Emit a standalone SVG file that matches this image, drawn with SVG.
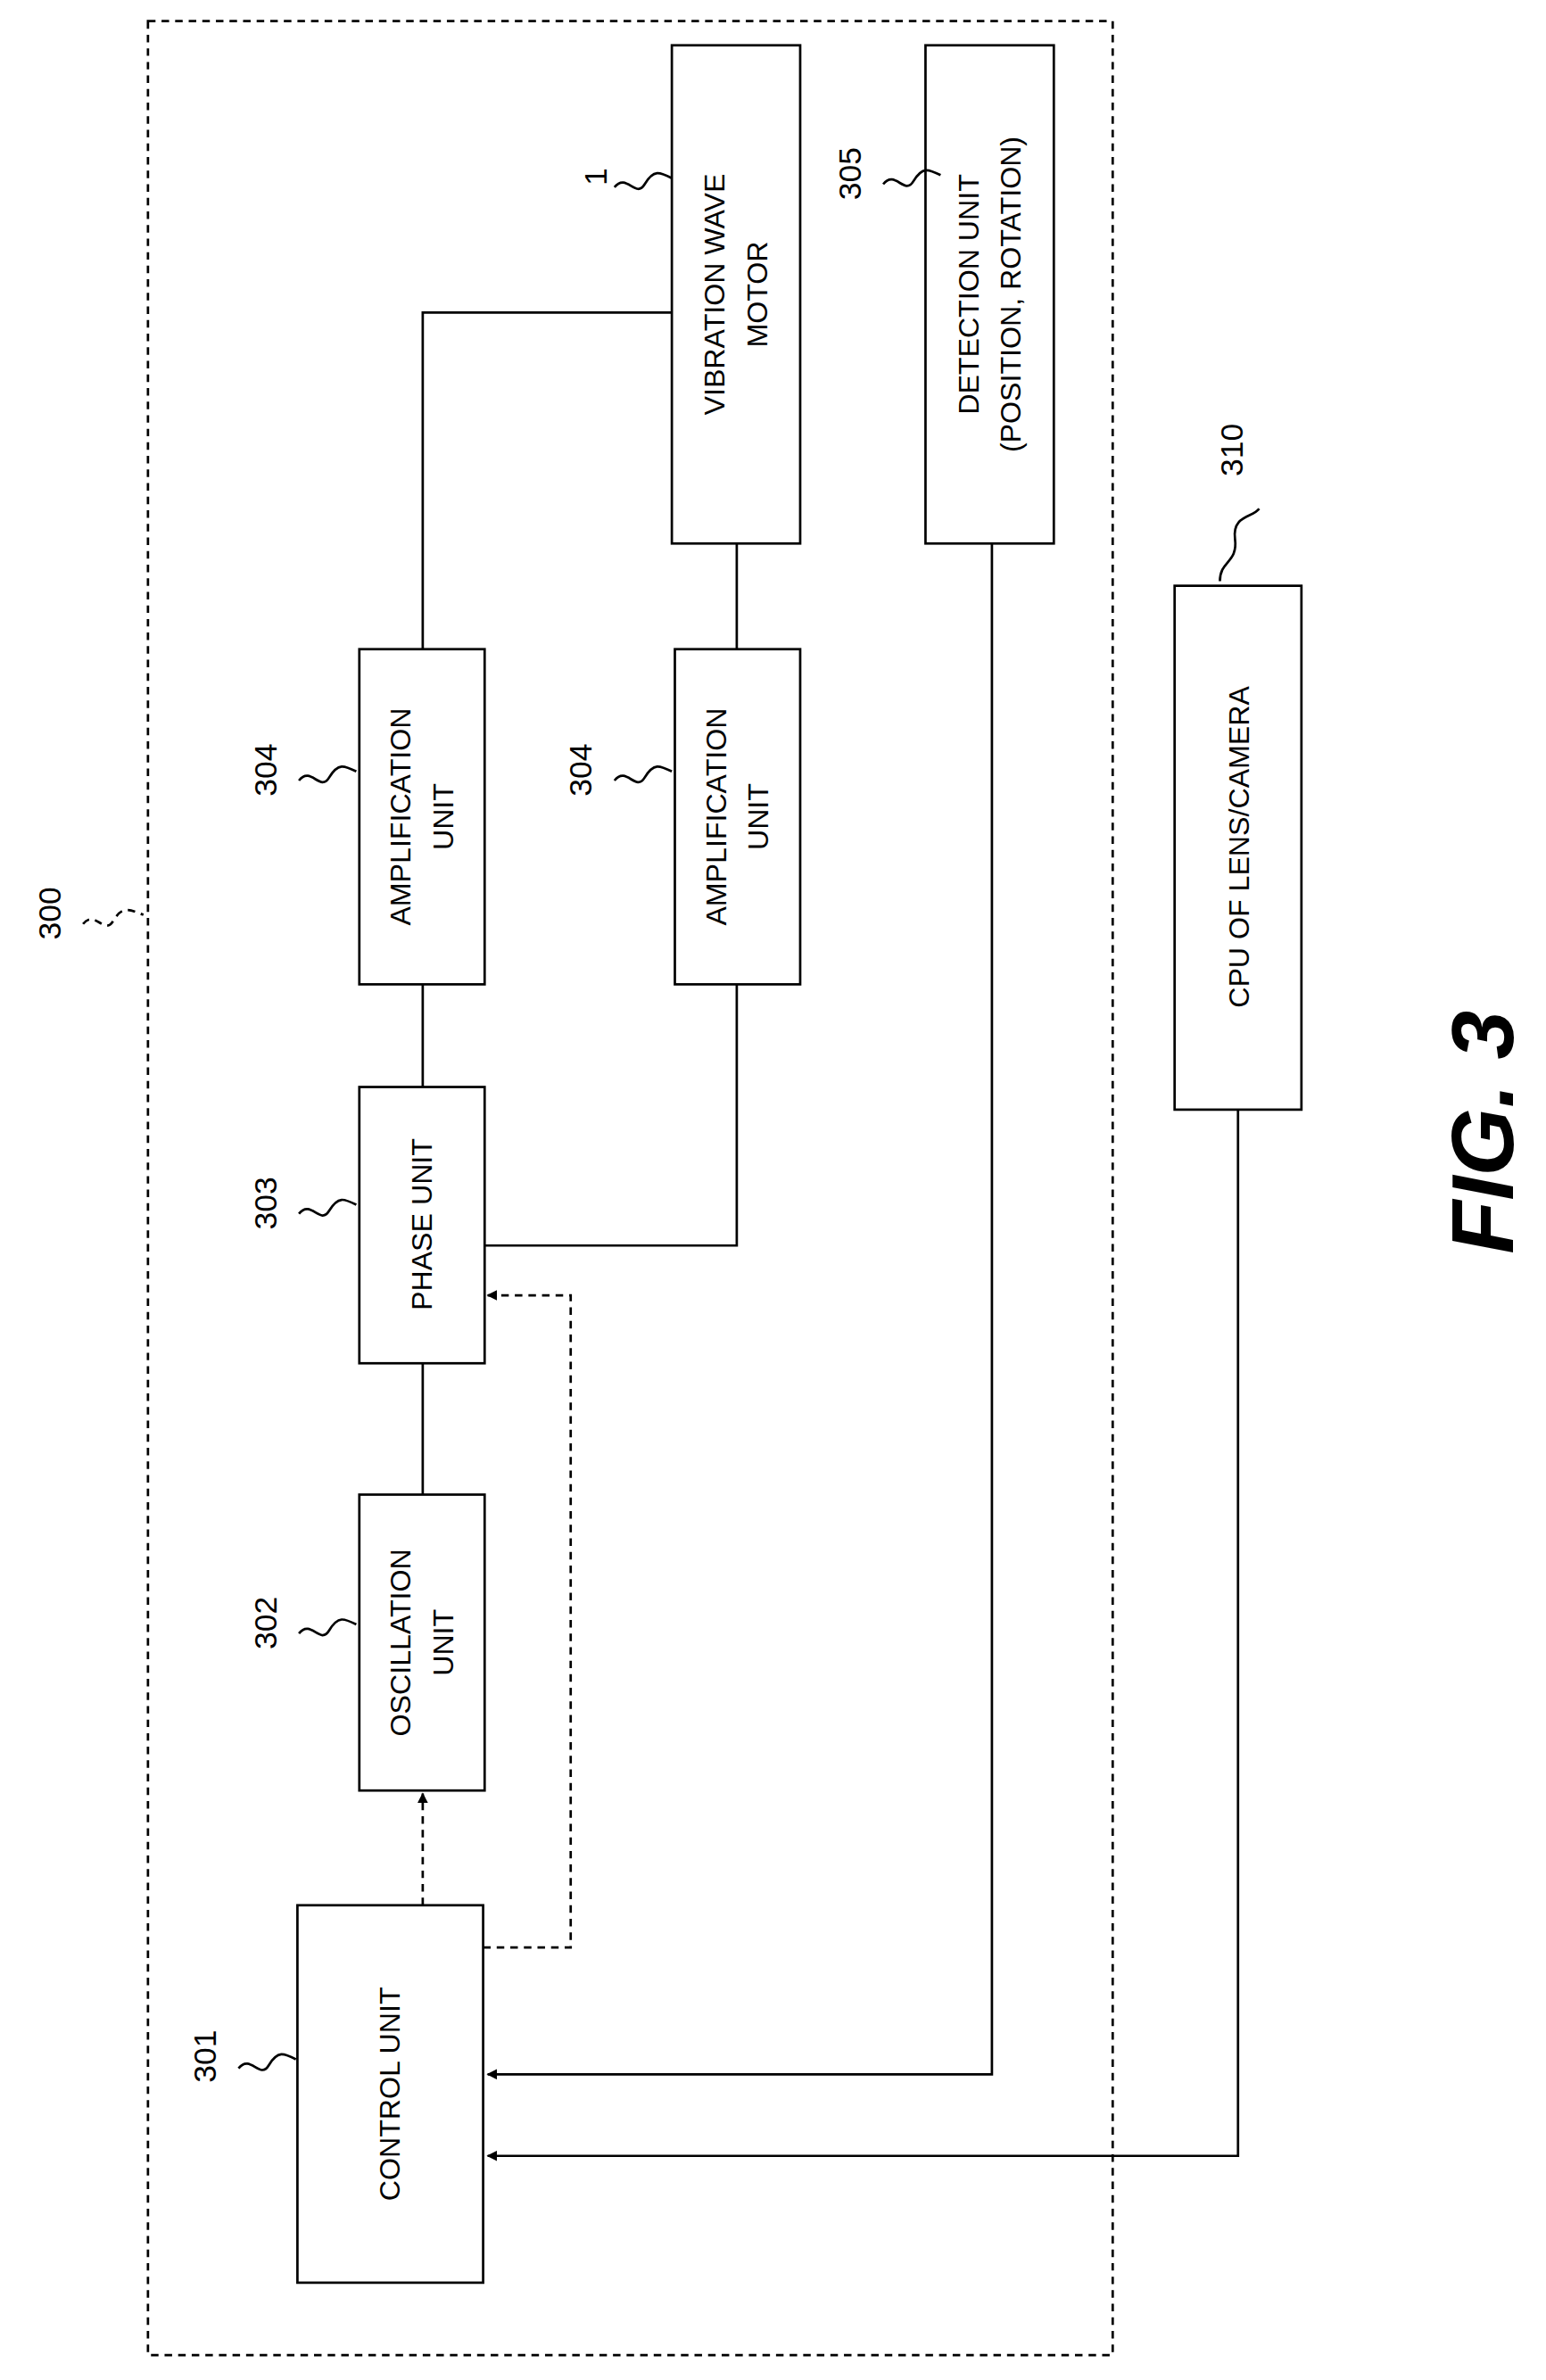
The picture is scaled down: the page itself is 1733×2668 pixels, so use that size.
<svg xmlns="http://www.w3.org/2000/svg" width="1733" height="2668" viewBox="0 0 1733 2668">
<defs>
<style>
.b{fill:#fff;stroke:#000;stroke-width:1.6}
.l{fill:none;stroke:#000;stroke-width:1.6}
.d{fill:none;stroke:#000;stroke-width:1.6;stroke-dasharray:5,4}
.t{font-family:"Liberation Sans",Arial,sans-serif;font-size:19px;text-anchor:middle}
.n{font-family:"Liberation Sans",Arial,sans-serif;font-size:21px;text-anchor:middle}
</style>
<marker id="a" viewBox="0 0 10 10" refX="9" refY="5" markerWidth="7" markerHeight="7" orient="auto" markerUnits="userSpaceOnUse"><path d="M0,0L10,5L0,10z"/></marker>
</defs>
<rect width="1733" height="2668" fill="#fff"/>
<g transform="scale(1.6924)">
<rect x="98" y="14" width="639" height="1546" class="d" stroke-width="1.8"/>
<g id="connectors">
<path class="l" d="M280,652V720M280,903V990M488,652V825H321M488,430V360M280,430V207H445"/>
<path class="d" d="M280,1262V1188" marker-end="url(#a)"/>
<path class="d" d="M320,1290H378V858H323" marker-end="url(#a)"/>
<path class="l" d="M657,360V1374H323" marker-end="url(#a)"/>
<path class="l" d="M820,735V1428H323" marker-end="url(#a)"/>
</g>
<g id="n301"><rect class="b" x="197" y="1262" width="123" height="250"/><text class="t" transform="translate(265,1387) rotate(-90)">CONTROL UNIT</text></g>
<g id="n302"><rect class="b" x="238" y="990" width="83" height="196"/><text class="t" transform="translate(272,1088) rotate(-90)">OSCILLATION<tspan x="0" dy="28">UNIT</tspan></text></g>
<g id="n303"><rect class="b" x="238" y="720" width="83" height="183"/><text class="t" transform="translate(286,811) rotate(-90)">PHASE UNIT</text></g>
<g id="n304a"><rect class="b" x="238" y="430" width="83" height="222"/><text class="t" transform="translate(272,541) rotate(-90)">AMPLIFICATION<tspan x="0" dy="28">UNIT</tspan></text></g>
<g id="n304b"><rect class="b" x="447" y="430" width="83" height="222"/><text class="t" transform="translate(481,541) rotate(-90)">AMPLIFICATION<tspan x="0" dy="28">UNIT</tspan></text></g>
<g id="n1"><rect class="b" x="445" y="30" width="85" height="330"/><text class="t" transform="translate(480,195) rotate(-90)">VIBRATION WAVE<tspan x="0" dy="28">MOTOR</tspan></text></g>
<g id="n305"><rect class="b" x="613" y="30" width="85" height="330"/><text class="t" transform="translate(648,195) rotate(-90)">DETECTION UNIT<tspan x="0" dy="28">(POSITION, ROTATION)</tspan></text></g>
<g id="n310"><rect class="b" x="778" y="388" width="84" height="347"/><text class="t" transform="translate(827,561) rotate(-90)">CPU OF LENS/CAMERA</text></g>
<g id="labels">
<text class="n" transform="translate(143,1362) rotate(-90)">301</text>
<path class="l" d="M158,1370c8,-10 14,8 20,-2s10,-8 18,-4"/>
<text class="n" transform="translate(183,1075) rotate(-90)">302</text>
<path class="l" d="M198,1082c8,-10 14,8 20,-2s10,-8 18,-4"/>
<text class="n" transform="translate(183,797) rotate(-90)">303</text>
<path class="l" d="M198,804c8,-10 14,8 20,-2s10,-8 18,-4"/>
<text class="n" transform="translate(183,510) rotate(-90)">304</text>
<path class="l" d="M198,517c8,-10 14,8 20,-2s10,-8 18,-4"/>
<text class="n" transform="translate(392,510) rotate(-90)">304</text>
<path class="l" d="M407,517c8,-10 14,8 20,-2s10,-8 18,-4"/>
<text class="n" transform="translate(402,117) rotate(-90)">1</text>
<path class="l" d="M407,124c8,-10 14,8 20,-2s10,-8 18,-4"/>
<text class="n" transform="translate(570,115) rotate(-90)">305</text>
<path class="l" d="M585,122c8,-10 14,8 20,-2s10,-8 18,-4"/>
<text class="n" transform="translate(823,298) rotate(-90)">310</text>
<path class="l" d="M808,385c0,-14 12,-12 10,-28s12,-14 16,-20"/>
<text class="n" transform="translate(40,605) rotate(-90)">300</text>
<path class="d" d="M55,612c8,-10 14,8 20,-2s10,-8 20,-4"/>
<text transform="translate(1002,750) rotate(-90)" style="font-family:'Liberation Sans',Arial,sans-serif;font-size:58px;font-weight:bold;font-style:italic;text-anchor:middle">FIG. 3</text>
</g>
</g>
</svg>
